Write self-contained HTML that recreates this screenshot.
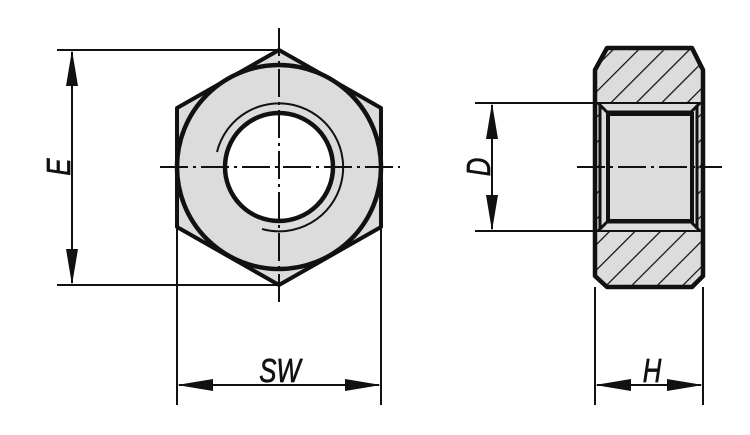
<!DOCTYPE html>
<html><head><style>body{margin:0;background:#fff}svg{display:block}</style></head><body>
<svg width="750" height="435" viewBox="0 0 750 435" xmlns="http://www.w3.org/2000/svg">
<defs>
<pattern id="h" width="18" height="18" patternUnits="userSpaceOnUse" patternTransform="rotate(-45)">
<rect width="18" height="18" fill="#dcdcdc"/><line x1="0" y1="0" x2="18" y2="0" stroke="#111" stroke-width="2.6"/>
</pattern>
</defs>
<g stroke="#111" fill="none">
<polygon points="279,50 381,108 381,227 279,285 177,227 177,108" fill="#dcdcdc" stroke-width="4" stroke-linejoin="round"/>
<circle cx="279" cy="167" r="102" stroke-width="4.5" fill="#dcdcdc"/>
<circle cx="279" cy="167" r="54" stroke-width="4.5" fill="#fff"/>
<path d="M217,152 A64,64 0 1 1 262,229" stroke-width="2"/>
<line x1="160" y1="167" x2="400" y2="167" stroke-width="2" stroke-dasharray="28,5,3,5"/>
<line x1="279" y1="28" x2="279" y2="305" stroke-width="2" stroke-dasharray="28,5,3,5"/>
<line x1="57" y1="50" x2="279" y2="50" stroke-width="2"/>
<line x1="57" y1="285" x2="279" y2="285" stroke-width="2"/>
<line x1="72" y1="52" x2="72" y2="283" stroke-width="2"/>
<line x1="177" y1="227" x2="177" y2="405" stroke-width="2"/>
<line x1="381" y1="227" x2="381" y2="405" stroke-width="2"/>
<line x1="179" y1="385" x2="379" y2="385" stroke-width="2"/>
<path d="M607,48 L692,48 L703,70 L703,276 L692,287 L607,287 L595,276 L595,70 Z" fill="url(#h)" stroke-width="4.5" stroke-linejoin="round"/>
<rect x="600" y="103" width="97" height="128" fill="#dcdcdc" stroke="none"/>
<path d="M597,103 L701,103 M597,231 L701,231" stroke-width="2"/>
<path d="M600,105 L600,229 M697,105 L697,229" stroke-width="3"/>
<path d="M598,103 L607,112 L691,112 L700,103 M598,231 L607,222 L691,222 L700,231" stroke-width="3"/>
<rect x="608" y="114" width="84" height="107" stroke-width="4"/>
<line x1="577" y1="167" x2="722" y2="167" stroke-width="2" stroke-dasharray="28,5,3,5"/>
<line x1="475" y1="103" x2="597" y2="103" stroke-width="2"/>
<line x1="475" y1="231" x2="597" y2="231" stroke-width="2"/>
<line x1="492" y1="105" x2="492" y2="229" stroke-width="2"/>
<line x1="595" y1="287" x2="595" y2="405" stroke-width="2"/>
<line x1="703" y1="287" x2="703" y2="405" stroke-width="2"/>
<line x1="597" y1="385" x2="701" y2="385" stroke-width="2"/>
</g>
<g fill="#111">
<polygon points="72,50 66,86 78,86"/><polygon points="72,285 66,249 78,249"/>
<polygon points="492,103 486,139 498,139"/><polygon points="492,231 486,195 498,195"/>
<polygon points="177,385 213,379 213,391"/><polygon points="381,385 345,379 345,391"/>
<polygon points="595,385 631,379 631,391"/><polygon points="703,385 667,379 667,391"/>
</g>
<g font-family="Liberation Sans, sans-serif" font-style="italic" font-size="33" fill="#111" stroke="#111" stroke-width="0.7">
<text transform="translate(280,382) scale(0.78,1)" text-anchor="middle">SW</text>
<text transform="translate(652,382) scale(0.78,1)" text-anchor="middle">H</text>
<text transform="translate(70,167) rotate(-90) scale(0.78,1)" text-anchor="middle">E</text>
<text transform="translate(490,167) rotate(-90) scale(0.78,1)" text-anchor="middle">D</text>
</g>
</svg>
</body></html>
